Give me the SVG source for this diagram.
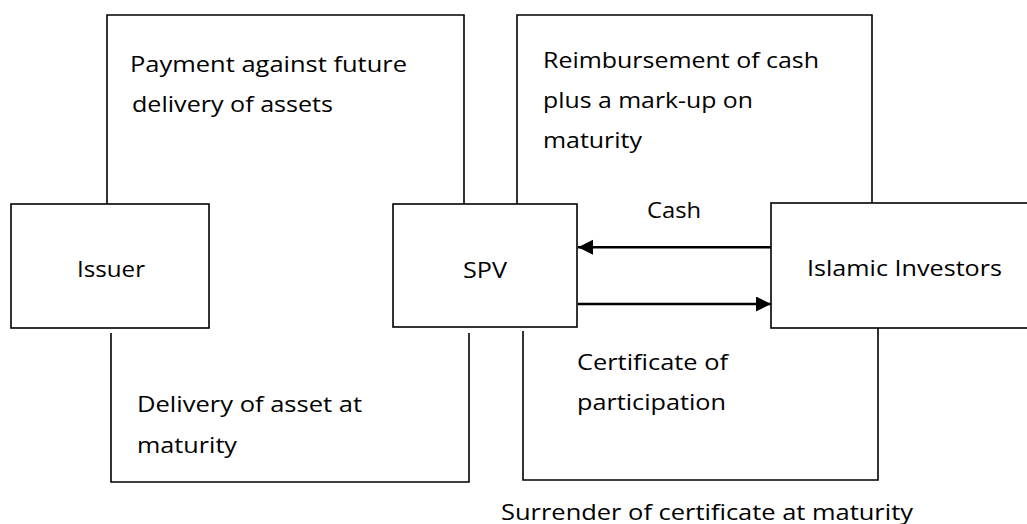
<svg xmlns="http://www.w3.org/2000/svg" width="1027" height="524" viewBox="0 0 1027 524">
<style>
.box{fill:#fff;stroke:#000;stroke-width:1.6}
.br{fill:none;stroke:#000;stroke-width:1.6}
.arr{fill:none;stroke:#000;stroke-width:2.6}
text{font-family:"Open Sans","Liberation Sans",sans-serif;font-size:22px;fill:#000}
</style>
<defs>
<marker id="ah" markerWidth="16" markerHeight="16" refX="15" refY="7.5" orient="auto" markerUnits="userSpaceOnUse">
<path d="M0,0 L15,7.5 L0,15 Z" fill="#000"/>
</marker>
</defs>
<g id="connectors">
<path class="br" d="M107,204 V15 H464 V204"/>
<path class="br" d="M111,333 V482 H469 V333"/>
<path class="br" d="M517,204 V15 H872 V203"/>
<path class="br" d="M523,331 V480 H878 V328"/>
<line class="arr" x1="772" y1="247.3" x2="578" y2="247.3" marker-end="url(#ah)"/>
<line class="arr" x1="578" y1="304" x2="771" y2="304" marker-end="url(#ah)"/>
<text x="130" y="72" textLength="277" lengthAdjust="spacingAndGlyphs">Payment against future</text>
<text x="132" y="112" textLength="201" lengthAdjust="spacingAndGlyphs">delivery of assets</text>
<text x="543" y="68" textLength="276" lengthAdjust="spacingAndGlyphs">Reimbursement of cash</text>
<text x="543" y="108" textLength="210" lengthAdjust="spacingAndGlyphs">plus a mark-up on</text>
<text x="543" y="148" textLength="99" lengthAdjust="spacingAndGlyphs">maturity</text>
<text x="647" y="218" textLength="54" lengthAdjust="spacingAndGlyphs">Cash</text>
<text x="137" y="412" textLength="225" lengthAdjust="spacingAndGlyphs">Delivery of asset at</text>
<text x="137" y="453" textLength="100" lengthAdjust="spacingAndGlyphs">maturity</text>
<text x="577" y="370" textLength="151" lengthAdjust="spacingAndGlyphs">Certificate of</text>
<text x="577" y="410" textLength="149" lengthAdjust="spacingAndGlyphs">participation</text>
<text x="501" y="520" textLength="412" lengthAdjust="spacingAndGlyphs">Surrender of certificate at maturity</text>
</g>
<g id="issuer">
<rect class="box" x="11" y="204" width="198" height="124"/>
<text x="77" y="277" textLength="68" lengthAdjust="spacingAndGlyphs">Issuer</text>
</g>
<g id="spv">
<rect class="box" x="393" y="204" width="184" height="123"/>
<text x="463" y="278" textLength="44" lengthAdjust="spacingAndGlyphs">SPV</text>
</g>
<g id="investors">
<rect class="box" x="771" y="203" width="270" height="125"/>
<text x="807" y="276" textLength="195" lengthAdjust="spacingAndGlyphs">Islamic Investors</text>
</g>
</svg>
